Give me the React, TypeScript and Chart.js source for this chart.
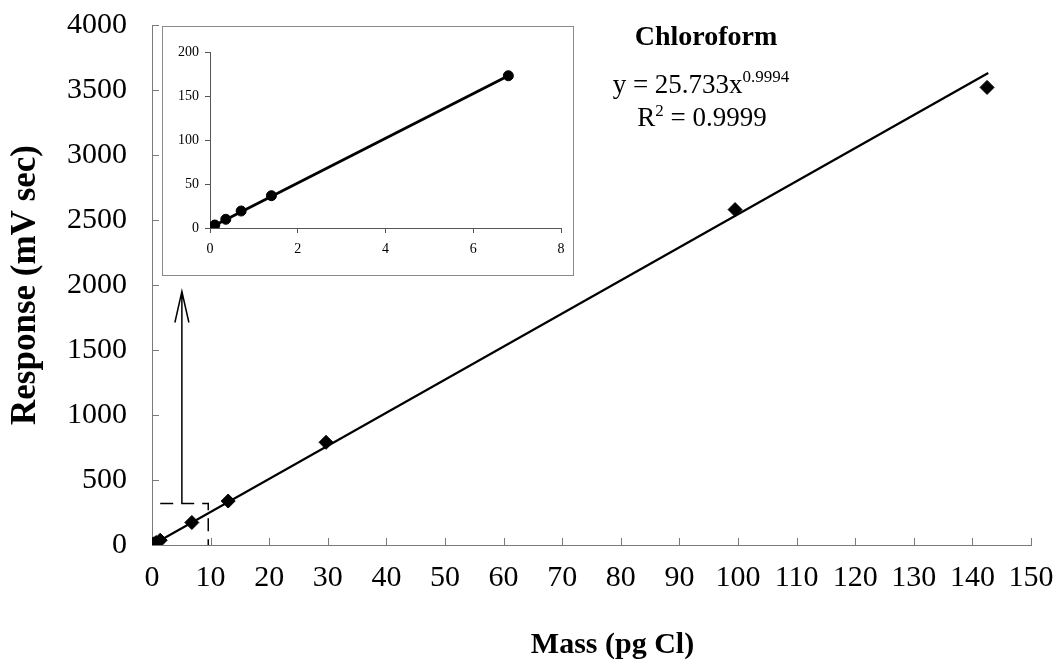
import React, { useEffect, useRef } from "react";
import { Chart, registerables } from "chart.js";

Chart.register(...registerables);

// ---- data ----
const massPgCl = [0.11, 0.36, 0.71, 1.4, 6.8, 13, 29.7, 99.5, 142.5];
const responseMvSec = [3.4, 9.9, 19.3, 36.7, 173, 338, 790, 2580, 3520];
const insetPointCount = 5;

// trend line end points (power fit y = 25.733x^0.9994)
const fitLineX = [0.08, 142.7];
const fitLineY = [2.1, 3630];
const insetLineX = [0.11, 6.8];
const insetLineY = [3.0, 173];

// tick labels
const mainXTicks = [0, 10, 20, 30, 40, 50, 60, 70, 80, 90, 100, 110, 120, 130, 140, 150];
const mainYTicks = [0, 500, 1000, 1500, 2000, 2500, 3000, 3500, 4000];
const insetXTicks = [0, 2, 4, 6, 8];
const insetYTicks = [0, 50, 100, 150, 200];

const xAxisTitle = "Mass (pg Cl)";
const yAxisTitle = "Response (mV sec)";

// zoom-box annotation (data units of the main chart)
const zoomBoxLeftX = 1.4;
const zoomBoxRightX = 9.6;
const zoomBoxTopY = 320;
const arrowX = 5.1;
const arrowTipY = 1950;

const FONT = "'Liberation Serif', 'Times New Roman', serif";

const setTicks = (values: number[]) => (scale: any) => {
  scale.ticks = values.map((v) => ({ value: v }));
};
const plainLabel = (v: any) => String(v);

const fixSize = (prop: "width" | "height", size: number) => (s: any) => {
  s[prop] = size;
  s.paddingLeft = 0;
  s.paddingRight = 0;
  s.paddingTop = 0;
  s.paddingBottom = 0;
};

const insideTicksPlugin = {
  id: "insideTicks",
  beforeDatasetsDraw(chart: any) {
    const { ctx, scales, chartArea } = chart;
    const x = scales.x;
    const y = scales.y;
    ctx.save();
    ctx.strokeStyle = "#7a7a7a";
    ctx.lineWidth = 1;
    ctx.beginPath();
    mainXTicks.forEach((v) => {
      const px = Math.round(x.getPixelForValue(v)) + 0.5;
      ctx.moveTo(px, chartArea.bottom);
      ctx.lineTo(px, chartArea.bottom - 7);
    });
    mainYTicks.forEach((v) => {
      const py = Math.round(y.getPixelForValue(v)) + 0.5;
      ctx.moveTo(chartArea.left, py);
      ctx.lineTo(chartArea.left + 7, py);
    });
    ctx.stroke();
    ctx.restore();
  },
};

const xTitlePlugin = {
  id: "xTitle",
  afterDraw(chart: any) {
    const { ctx, chartArea } = chart;
    ctx.save();
    ctx.fillStyle = "#000";
    ctx.font = `bold 30px ${FONT}`;
    ctx.textAlign = "center";
    ctx.textBaseline = "middle";
    ctx.fillText(xAxisTitle, (chartArea.left + chartArea.right) / 2 + 21, 645);
    ctx.restore();
  },
};

const annotationPlugin = {
  id: "zoomAnnotation",
  afterDatasetsDraw(chart: any) {
    const { ctx, scales, chartArea } = chart;
    const x = scales.x;
    const y = scales.y;
    const xl = x.getPixelForValue(zoomBoxLeftX);
    const xr = x.getPixelForValue(zoomBoxRightX);
    const yt = y.getPixelForValue(zoomBoxTopY);
    const ax = x.getPixelForValue(arrowX);
    const tipY = y.getPixelForValue(arrowTipY);
    ctx.save();
    ctx.strokeStyle = "#000";
    ctx.lineWidth = 1.5;
    ctx.setLineDash([13, 8]);
    ctx.beginPath();
    ctx.moveTo(xl, yt);
    ctx.lineTo(xr, yt);
    ctx.lineTo(xr, chartArea.bottom);
    ctx.stroke();
    ctx.setLineDash([]);
    ctx.beginPath();
    ctx.moveTo(ax, yt);
    ctx.lineTo(ax, tipY);
    ctx.moveTo(ax - 7, tipY + 31);
    ctx.lineTo(ax, tipY);
    ctx.lineTo(ax + 7, tipY + 31);
    ctx.stroke();
    ctx.restore();
  },
};

export default function App() {
  const mainRef = useRef<HTMLCanvasElement | null>(null);
  const insetRef = useRef<HTMLCanvasElement | null>(null);

  useEffect(() => {
    const points = massPgCl.map((m, i) => ({ x: m, y: responseMvSec[i] }));
    const fit = fitLineX.map((m, i) => ({ x: m, y: fitLineY[i] }));
    const main = new Chart(mainRef.current as HTMLCanvasElement, {
      type: "scatter",
      data: {
        datasets: [
          {
            label: "Chloroform",
            data: points,
            pointStyle: "rectRot",
            pointRadius: 7,
            pointBorderWidth: 1,
            backgroundColor: "#000",
            borderColor: "#000",
            showLine: false,
          },
          {
            label: "Fit",
            data: fit,
            showLine: true,
            borderColor: "#000",
            borderWidth: 2.3,
            pointRadius: 0,
            fill: false,
          },
        ],
      },
      options: {
        animation: false,
        responsive: false,
        devicePixelRatio: 1,
        layout: { padding: { left: 0, right: 27, top: 25, bottom: 0 } },
        plugins: { legend: { display: false }, tooltip: { enabled: false } },
        scales: {
          x: {
            type: "linear",
            min: 0,
            max: 150,
            afterBuildTicks: setTicks(mainXTicks),
            afterFit: fixSize("height", 125),
            grid: { display: false, drawTicks: false },
            border: { display: true, color: "#7a7a7a", width: 1 },
            ticks: { padding: 15, color: "#000", font: { family: FONT, size: 30 }, callback: plainLabel },
            title: { display: false },
          },
          y: {
            type: "linear",
            min: 0,
            max: 4000,
            afterBuildTicks: setTicks(mainYTicks),
            afterFit: fixSize("width", 152),
            grid: { display: false, drawTicks: false },
            border: { display: true, color: "#7a7a7a", width: 1 },
            ticks: { padding: 25, color: "#000", font: { family: FONT, size: 30 }, callback: plainLabel },
            title: {
              display: true,
              text: yAxisTitle,
              color: "#000",
              font: { family: FONT, size: 35, weight: "bold" },
              padding: { top: 5, bottom: 0 },
            },
          },
        },
      },
      plugins: [insideTicksPlugin, annotationPlugin, xTitlePlugin],
    } as any);

    const insetPoints = points.slice(0, insetPointCount);
    const insetFit = insetLineX.map((m, i) => ({ x: m, y: insetLineY[i] }));
    const inset = new Chart(insetRef.current as HTMLCanvasElement, {
      type: "scatter",
      data: {
        datasets: [
          {
            label: "Low range",
            data: insetPoints,
            pointStyle: "circle",
            pointRadius: 5,
            pointBorderWidth: 1,
            backgroundColor: "#000",
            borderColor: "#000",
            showLine: false,
          },
          {
            label: "Fit",
            data: insetFit,
            showLine: true,
            borderColor: "#000",
            borderWidth: 2.8,
            pointRadius: 0,
            fill: false,
          },
        ],
      },
      options: {
        animation: false,
        responsive: false,
        devicePixelRatio: 1,
        layout: { padding: { left: 0, right: 12, top: 25, bottom: 0 } },
        plugins: { legend: { display: false }, tooltip: { enabled: false } },
        scales: {
          x: {
            type: "linear",
            min: 0,
            max: 8,
            afterBuildTicks: setTicks(insetXTicks),
            afterFit: fixSize("height", 47),
            grid: { display: true, drawOnChartArea: false, drawTicks: true, tickLength: 5, color: "#555" },
            border: { display: true, color: "#555", width: 1 },
            ticks: { padding: 8, color: "#000", font: { family: FONT, size: 14 }, callback: plainLabel },
          },
          y: {
            type: "linear",
            min: 0,
            max: 200,
            afterBuildTicks: setTicks(insetYTicks),
            afterFit: fixSize("width", 47),
            grid: { display: true, drawOnChartArea: false, drawTicks: true, tickLength: 5, color: "#555" },
            border: { display: true, color: "#555", width: 1 },
            ticks: { padding: 6, color: "#000", font: { family: FONT, size: 14 }, callback: plainLabel },
          },
        },
      },
    } as any);

    return () => {
      main.destroy();
      inset.destroy();
    };
  }, []);

  const textBase: React.CSSProperties = {
    position: "absolute",
    fontFamily: FONT,
    color: "#000",
    whiteSpace: "nowrap",
    lineHeight: "27px",
    transform: "translateX(-50%)",
    pointerEvents: "none",
  };

  return (
    <div style={{ position: "absolute", left: 0, top: 0, width: 1058, height: 670, background: "#fff" }}>
      <canvas ref={mainRef} width={1058} height={670} style={{ position: "absolute", left: 0, top: 0, width: 1058, height: 670 }} />
      <div
        style={{
          position: "absolute",
          left: 162,
          top: 26,
          width: 412,
          height: 250,
          border: "1px solid #8a8a8a",
          boxSizing: "border-box",
          background: "#fff",
        }}
      >
        <canvas ref={insetRef} width={410} height={248} style={{ display: "block", width: 410, height: 248 }} />
      </div>
      <div style={{ ...textBase, left: 706, top: 22, fontSize: 28, fontWeight: "bold" }}>Chloroform</div>
      <div style={{ ...textBase, left: 701, top: 71, fontSize: 27 }}>
        y = 25.733x
        <span style={{ fontSize: 17, position: "relative", top: -11 }}>0.9994</span>
      </div>
      <div style={{ ...textBase, left: 702, top: 104, fontSize: 27 }}>
        R<span style={{ fontSize: 17, position: "relative", top: -10 }}>2</span> = 0.9999
      </div>
    </div>
  );
}
